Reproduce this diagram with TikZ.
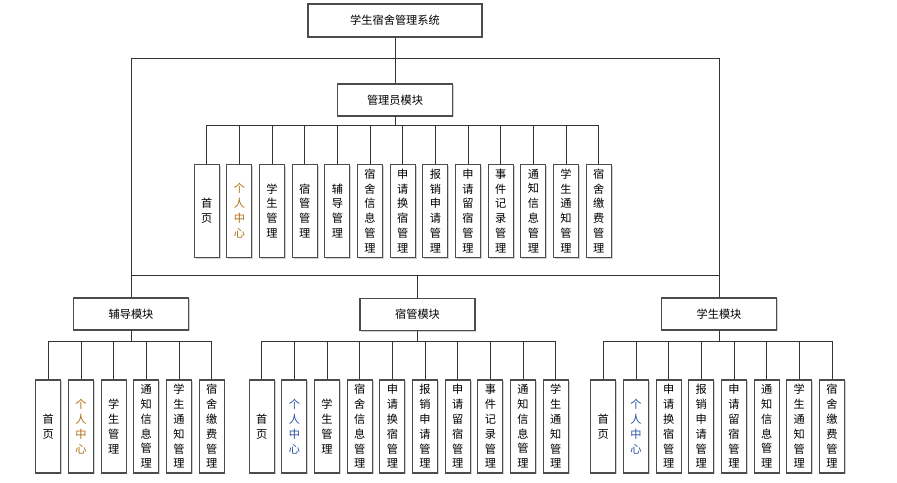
\documentclass[tikz,border=0pt]{standalone}
\usepackage{fontspec}
\newfontfamily\cjk{Noto Sans CJK SC}
\usetikzlibrary{shadows}
\definecolor{orn}{RGB}{176,112,20}
\definecolor{blu}{RGB}{40,80,160}
\begin{document}
\begin{tikzpicture}[x=1pt,y=-1pt,
  box/.style={draw=black!70, line width=1.1pt, fill=white,
    drop shadow={shadow xshift=1.3pt, shadow yshift=-1.3pt, fill=black!18, opacity=1},
    inner sep=0pt, font=\cjk\fontsize{11.2}{14.8}\selectfont},
  hbox/.style={box, minimum width=115pt, minimum height=32pt},
  vbox/.style={box, minimum width=25pt, minimum height=93pt, align=center},
  conn/.style={draw=black!80, line width=0.9pt}]
\useasboundingbox (0,0) rectangle (897,482);

% top
\node[box, minimum width=174pt, minimum height=33pt] (top) at (395,20.5) {学生宿舍管理系统};
\node[hbox] (admin) at (395,100) {管理员模块};
\node[hbox] (fd) at (131,314) {辅导模块};
\node[hbox] (sg) at (417.5,314.5) {宿管模块};
\node[hbox] (xs) at (719,314) {学生模块};

\coordinate (tb) at (395,58.5);
\coordinate (mb) at (395,275.7);
\coordinate (busA) at (395,125.7);
\coordinate (busB) at (395,341.7);

\draw[conn] (top.south) -- (admin.north);
\draw[conn] (fd.north) |- (xs.north |- tb) -- (xs.north);
\draw[conn] (fd.north |- mb) -- (xs.north |- mb);
\draw[conn] (sg.north |- mb) -- (sg.north);

% admin children
\foreach \t [count=\i from 0] in {{首\\页},{\color{orn}个\\\color{orn}人\\\color{orn}中\\\color{orn}心},{学\\生\\管\\理},{宿\\管\\管\\理},{辅\\导\\管\\理},{宿\\舍\\信\\息\\管\\理},{申\\请\\换\\宿\\管\\理},{报\\销\\申\\请\\管\\理},{申\\请\\留\\宿\\管\\理},{事\\件\\记\\录\\管\\理},{通\\知\\信\\息\\管\\理},{学\\生\\通\\知\\管\\理},{宿\\舍\\缴\\费\\管\\理}}{
  \node[vbox] (a\i) at (206.7+32.67*\i,210.8) {\t};
  \draw[conn] (admin.south) -- (admin.south |- busA) -| (a\i.north);
}

% fudao children
\foreach \t [count=\i from 0] in {{首\\页},{\color{orn}个\\\color{orn}人\\\color{orn}中\\\color{orn}心},{学\\生\\管\\理},{通\\知\\信\\息\\管\\理},{学\\生\\通\\知\\管\\理},{宿\\舍\\缴\\费\\管\\理}}{
  \node[vbox] (f\i) at (48.3+32.67*\i,426.5) {\t};
  \draw[conn] (fd.south) -- (fd.south |- busB) -| (f\i.north);
}

% suguan children
\foreach \t [count=\i from 0] in {{首\\页},{\color{blu}个\\\color{blu}人\\\color{blu}中\\\color{blu}心},{学\\生\\管\\理},{宿\\舍\\信\\息\\管\\理},{申\\请\\换\\宿\\管\\理},{报\\销\\申\\请\\管\\理},{申\\请\\留\\宿\\管\\理},{事\\件\\记\\录\\管\\理},{通\\知\\信\\息\\管\\理},{学\\生\\通\\知\\管\\理}}{
  \node[vbox] (s\i) at (261.7+32.67*\i,426.5) {\t};
  \draw[conn] (sg.south) -- (sg.south |- busB) -| (s\i.north);
}

% xuesheng children
\foreach \t [count=\i from 0] in {{首\\页},{\color{blu}个\\\color{blu}人\\\color{blu}中\\\color{blu}心},{申\\请\\换\\宿\\管\\理},{报\\销\\申\\请\\管\\理},{申\\请\\留\\宿\\管\\理},{通\\知\\信\\息\\管\\理},{学\\生\\通\\知\\管\\理},{宿\\舍\\缴\\费\\管\\理}}{
  \node[vbox] (x\i) at (603.3+32.67*\i,426.5) {\t};
  \draw[conn] (xs.south) -- (xs.south |- busB) -| (x\i.north);
}
\end{tikzpicture}
\end{document}
